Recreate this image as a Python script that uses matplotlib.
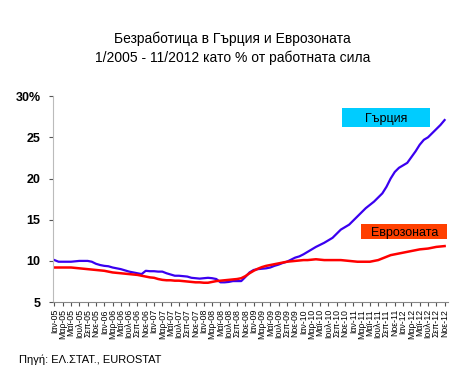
import matplotlib
matplotlib.use("Agg")
import matplotlib.pyplot as plt
from matplotlib.patches import Rectangle
import numpy as np

plt.rcParams['font.family'] = ['Liberation Sans', 'DejaVu Sans']

# monthly data 1/2005 - 11/2012
greece = [10.1, 9.9, 9.9, 9.9, 9.9, 9.95, 10.0, 10.0, 10.0, 9.9,
          9.65, 9.5, 9.4, 9.35, 9.2, 9.1, 9.0, 8.85, 8.7, 8.6,
          8.5, 8.4, 8.8, 8.75, 8.75, 8.7, 8.7, 8.5, 8.35, 8.2,
          8.2, 8.15, 8.1, 7.95, 7.9, 7.85, 7.9, 7.95, 7.9, 7.8,
          7.4, 7.4, 7.45, 7.55, 7.55, 7.55, 8.05, 8.6, 8.9, 9.0,
          9.05, 9.1, 9.2, 9.4, 9.55, 9.75, 9.9, 10.15, 10.4, 10.55,
          10.8, 11.1, 11.4, 11.7, 11.95, 12.2, 12.5, 12.8, 13.3, 13.8,
          14.1, 14.4, 14.9, 15.4, 15.9, 16.4, 16.8, 17.2, 17.7, 18.2,
          19.0, 20.0, 20.8, 21.3, 21.6, 21.9, 22.6, 23.3, 24.1, 24.7,
          25.0, 25.5, 26.0, 26.5, 27.1]
eurozone = [9.2, 9.2, 9.2, 9.2, 9.2, 9.15, 9.1, 9.05, 9.0, 8.95,
            8.9, 8.85, 8.8, 8.7, 8.6, 8.55, 8.5, 8.45, 8.4, 8.35,
            8.3, 8.2, 8.1, 8.0, 7.95, 7.8, 7.7, 7.65, 7.65, 7.6,
            7.6, 7.55, 7.5, 7.45, 7.4, 7.4, 7.35, 7.35, 7.45, 7.55,
            7.6, 7.65, 7.7, 7.75, 7.8, 7.9, 8.15, 8.5, 8.8, 9.05,
            9.25, 9.4, 9.5, 9.6, 9.7, 9.8, 9.9, 9.95, 10.0, 10.05,
            10.1, 10.1, 10.15, 10.2, 10.15, 10.1, 10.1, 10.1, 10.1, 10.1,
            10.05, 10.0, 9.95, 9.9, 9.9, 9.9, 9.9, 10.0, 10.1, 10.3,
            10.5, 10.7, 10.8, 10.9, 11.0, 11.1, 11.2, 11.3, 11.4, 11.45,
            11.5, 11.6, 11.7, 11.75, 11.8]

months_gr = ["Ιαν", "Μαρ", "Μαϊ", "Ιουλ", "Σεπ", "Νοε"]
years = ["05", "06", "07", "08", "09", "10", "11", "12"]
tick_labels = [m + "-" + y for y in years for m in months_gr]
yticks = [5, 10, 15, 20, 25, 30]
ytick_labels = ["5", "10", "15", "20", "25", "30%"]

x = np.arange(len(greece))

fig = plt.figure(figsize=(4.75, 3.8), dpi=100)
ax = fig.add_axes([0.112, 0.205, 0.831, 0.542])

ax.plot(x, greece, color="#3a00f0", lw=1.6)
ax.plot(x, eurozone, color="#ff0000", lw=1.8)

ax.set_xlim(-0.3, 94.8)
ax.set_ylim(5, 30)
ax.set_yticks(yticks)
ax.set_yticklabels(ytick_labels, fontsize=9, fontweight="bold")
ax.set_xticks(np.arange(0, len(greece), 2))
ax.set_xticklabels(tick_labels, rotation=90, fontsize=6.3)
ax.tick_params(axis="x", length=3, color="#555555", pad=2)
ax.tick_params(axis="y", length=3, color="#555555", pad=6)
for s in ["top", "right"]:
    ax.spines[s].set_visible(False)
ax.spines["left"].set_color("#bbbbbb")
ax.spines["bottom"].set_color("#888888")

fig.text(0.49, 0.888, "Безработица в Гърция и Еврозоната", ha="center", fontsize=10)
fig.text(0.49, 0.838, "1/2005 - 11/2012 като % от работната сила", ha="center", fontsize=10)

# label boxes
fig.patches.append(Rectangle((0.72, 0.666), 0.185, 0.05, transform=fig.transFigure,
                             facecolor="#00ccff", edgecolor="none"))
fig.text(0.812, 0.686, "Гърция", ha="center", va="center", fontsize=9)
fig.patches.append(Rectangle((0.76, 0.371), 0.181, 0.04, transform=fig.transFigure,
                             facecolor="#ff4000", edgecolor="none"))
fig.text(0.851, 0.386, "Еврозоната", ha="center", va="center", fontsize=9)

fig.text(0.04, 0.045, "Πηγή: ΕΛ.ΣΤΑΤ., EUROSTAT", fontsize=8)

fig.savefig("out.png", dpi=100)
